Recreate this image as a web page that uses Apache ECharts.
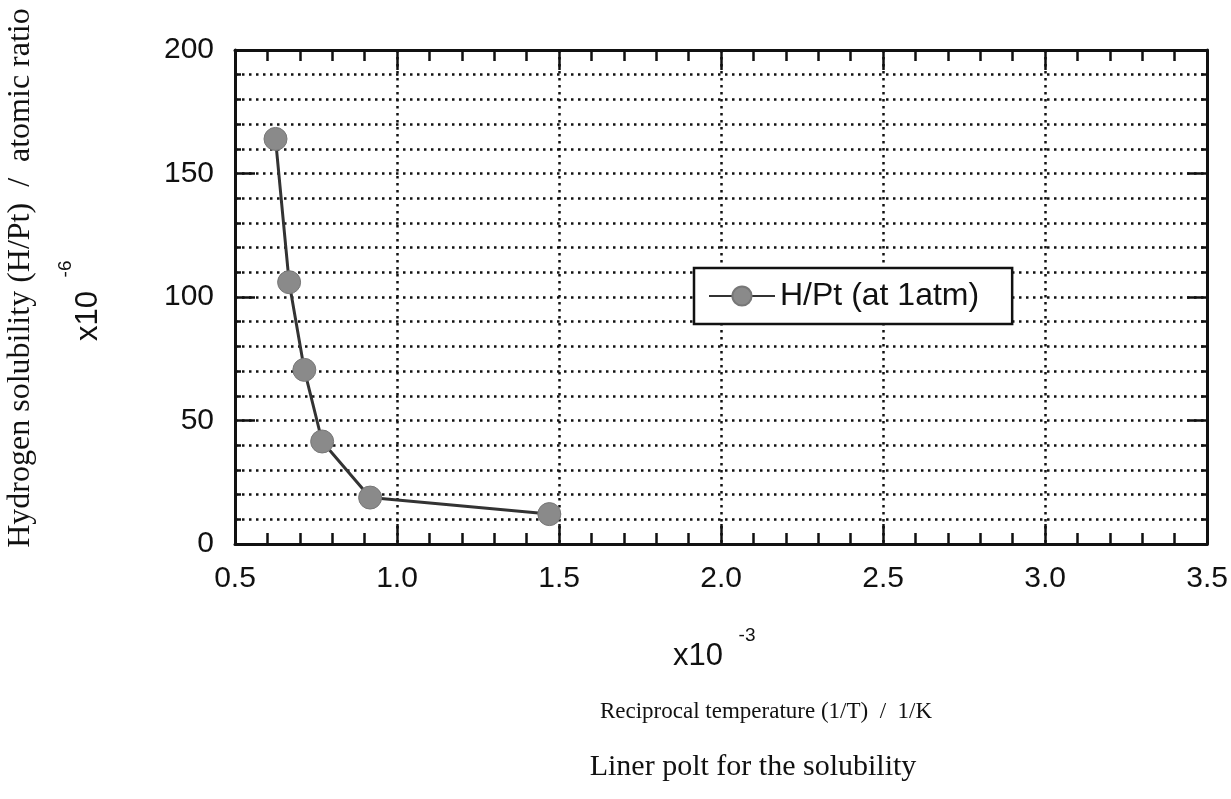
<!DOCTYPE html>
<html><head><meta charset="utf-8">
<script src="https://cdn.jsdelivr.net/npm/echarts@6/dist/echarts.min.js"></script>
<style>html,body{margin:0;padding:0;background:#fff}#c{width:1231px;height:799px}</style>
</head><body><div id="c"></div>
<script>
const xValues = [0.625, 0.667, 0.714, 0.769, 0.917, 1.47];
const yValues = [164, 106, 70.5, 41.5, 18.8, 12.1];
const seriesName = 'H/Pt (at 1atm)';
const xTitle = 'Reciprocal temperature (1/T)  /  1/K';
const yTitle = 'Hydrogen solubility (H/Pt)  /  atomic ratio';
const chartTitle = 'Liner polt for the solubility';

const sans = 'Liberation Sans, Arial, sans-serif';
const serif = 'Liberation Serif, Times New Roman, serif';
const dotted = {color:'#111', width:2.5, type:[2.5,4.5]};

const chart = echarts.init(document.getElementById('c'));
const common = {
  axisLine:{show:true, onZero:false, lineStyle:{color:'#111', width:3}},
  axisTick:{show:true, inside:true, length:20, lineStyle:{color:'#111', width:2.5}},
  minorTick:{show:true, splitNumber:5, length:11, lineStyle:{color:'#111', width:2.5}}
};
chart.setOption({
  animation:false,
  grid:{left:235, right:19, top:50, bottom:255},
  xAxis:[
    Object.assign({type:'value', min:0.5, max:3.5, interval:0.5, position:'bottom',
      axisLabel:{color:'#111', fontSize:30, fontFamily:sans, margin:20, formatter:v=>v.toFixed(1)},
      splitLine:{show:true, lineStyle:dotted}}, common),
    Object.assign({type:'value', min:0.5, max:3.5, interval:0.5, position:'top',
      axisLabel:{show:false}, splitLine:{show:false}}, common)
  ],
  yAxis:[
    Object.assign({type:'value', min:0, max:200, interval:50, position:'left',
      axisLabel:{color:'#111', fontSize:30, fontFamily:sans, margin:21},
      splitLine:{show:true, lineStyle:dotted},
      minorSplitLine:{show:true, lineStyle:dotted}}, common,
      {minorTick:{show:true, splitNumber:5, length:6, lineStyle:{color:'#111', width:2.5}}}),
    Object.assign({type:'value', min:0, max:200, interval:50, position:'right',
      axisLabel:{show:false}, splitLine:{show:false}}, common,
      {minorTick:{show:true, splitNumber:5, length:6, lineStyle:{color:'#111', width:2.5}}})
  ],
  legend:{
    show:true, left:694, top:268, orient:'horizontal',
    backgroundColor:'#fff', borderColor:'#111', borderWidth:2.5, borderRadius:0,
    padding:[12,33,12,14], itemWidth:66, itemHeight:24, itemGap:10,
    textStyle:{fontSize:32, fontFamily:sans, color:'#111'},
    data:[{name:seriesName}]
  },
  series:[{
    name:seriesName, type:'line', data:xValues.map((x,i)=>[x,yValues[i]]),
    symbol:'circle', symbolSize:23,
    lineStyle:{color:'#333', width:3},
    itemStyle:{color:'#8a8a8a', borderColor:'#777', borderWidth:1},
    z:5
  }],
  graphic:[
    {type:'text', x:698, y:656, style:{text:'x10', font:'31px '+sans, fill:'#111', textAlign:'center', textVerticalAlign:'middle'}},
    {type:'text', x:747, y:636, style:{text:'-3', font:'19px '+sans, fill:'#111', textAlign:'center', textVerticalAlign:'middle'}},
    {type:'text', x:766, y:712, style:{text:xTitle, font:'23px '+serif, fill:'#111', textAlign:'center', textVerticalAlign:'middle'}},
    {type:'text', x:753, y:767, style:{text:chartTitle, font:'30px '+serif, fill:'#111', textAlign:'center', textVerticalAlign:'middle'}},
    {type:'text', x:21, y:278, rotation:Math.PI/2, style:{text:yTitle, font:'32px '+serif, fill:'#111', textAlign:'center', textVerticalAlign:'middle'}},
    {type:'text', x:88, y:316, rotation:Math.PI/2, style:{text:'x10', font:'31px '+sans, fill:'#111', textAlign:'center', textVerticalAlign:'middle'}},
    {type:'text', x:66, y:269, rotation:Math.PI/2, style:{text:'-6', font:'19px '+sans, fill:'#111', textAlign:'center', textVerticalAlign:'middle'}}
  ]
});
</script></body></html>
